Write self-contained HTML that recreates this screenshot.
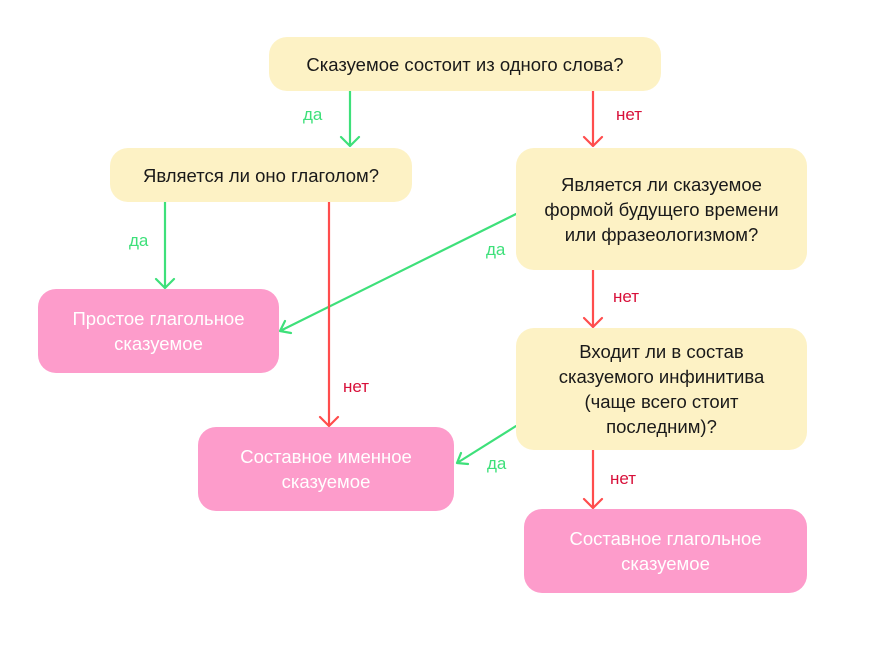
<!DOCTYPE html>
<html><head><meta charset="utf-8"><style>
body{margin:0;width:883px;height:650px;background:#fff;position:relative;overflow:hidden;font-family:"Liberation Sans",sans-serif}
.b{position:absolute;display:flex;align-items:center;justify-content:center;text-align:center;border-radius:18px;font-size:18.5px;line-height:25px;box-sizing:border-box}
.y{background:#fdf2c5;color:#1a1a1a}
.p{background:#fd9ccb;color:#fff}
.l{position:absolute;font-size:17px}
.g{color:#3ee07a}.r{color:#d8103a}
svg{position:absolute;left:0;top:0}
</style></head><body>
<svg width="883" height="650" fill="none" stroke-width="2.2" stroke-linecap="round" stroke-linejoin="round">
<g stroke="#3ee07a">
<path d="M350 91V146M341 137L350 146L359 137"/>
<path d="M165 202V288M156 279L165 288L174 279"/>
<path d="M516 214L280 331M285 321L280 331L291 333"/>
<path d="M516 426L457 463M461 453L457 463L468 464"/>
</g>
<g stroke="#ff4d4d">
<path d="M593 91V146M584 137L593 146L602 137"/>
<path d="M329 202V426M320 417L329 426L338 417"/>
<path d="M593 270V327M584 318L593 327L602 318"/>
<path d="M593 450V508M584 499L593 508L602 499"/>
</g>
</svg>
<div class="b y" style="left:269px;top:37px;width:392px;height:54px">Сказуемое состоит из одного слова?</div>
<div class="b y" style="left:110px;top:148px;width:302px;height:54px">Является ли оно глаголом?</div>
<div class="b y" style="left:516px;top:148px;width:291px;height:122px">Является ли сказуемое<br>формой будущего времени<br>или фразеологизмом?</div>
<div class="b p" style="left:38px;top:289px;width:241px;height:84px">Простое глагольное<br>сказуемое</div>
<div class="b y" style="left:516px;top:328px;width:291px;height:122px">Входит ли в состав<br>сказуемого инфинитива<br>(чаще всего стоит<br>последним)?</div>
<div class="b p" style="left:198px;top:427px;width:256px;height:84px">Составное именное<br>сказуемое</div>
<div class="b p" style="left:524px;top:509px;width:283px;height:84px">Составное глагольное<br>сказуемое</div>
<div class="l g" style="left:303px;top:105px">да</div>
<div class="l r" style="left:616px;top:105px">нет</div>
<div class="l g" style="left:129px;top:231px">да</div>
<div class="l g" style="left:486px;top:240px">да</div>
<div class="l r" style="left:613px;top:287px">нет</div>
<div class="l r" style="left:343px;top:377px">нет</div>
<div class="l g" style="left:487px;top:454px">да</div>
<div class="l r" style="left:610px;top:469px">нет</div>
</body></html>
